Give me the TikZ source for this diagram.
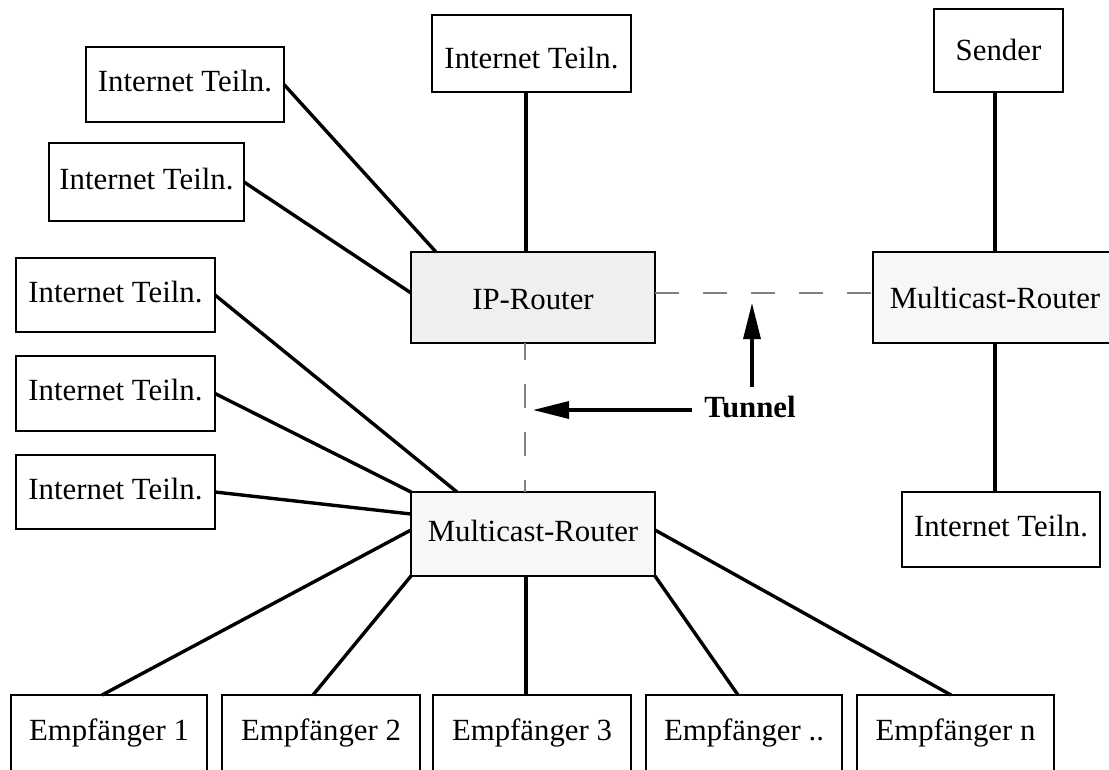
\documentclass[tikz,border=0pt]{standalone}
\usepackage{fontspec}
\setmainfont{Liberation Serif}
\usetikzlibrary{arrows.meta}
\definecolor{iphell}{HTML}{EFEFEF}
\definecolor{mchell}{HTML}{F7F7F7}
\definecolor{tunnelgrau}{HTML}{808080}

\begin{document}
\begin{tikzpicture}[x=1pt,y=-1pt,
  box/.style={draw=black, line width=2.8pt, fill=white, inner sep=0pt, outer sep=0pt,
              font=\fontsize{30.8}{36}\selectfont, text height=21pt, text depth=7pt},
  iprouter/.style={box, fill=iphell},
  mcrouter/.style={box, fill=mchell},
  link/.style={line width=3.4pt, line cap=butt},
  tunnelline/.style={draw=tunnelgrau, line width=2.5pt, dash pattern=on 24pt off 24pt},
  pointer/.style={line width=3.4pt, -{Triangle[length=36pt,width=17pt]}},
]
\useasboundingbox (0,0) rectangle (1109,769);
\clip (0,0) rectangle (1109,769);
\fill[white] (0,0) rectangle (1109,769);

% Teilnehmer links
\node[box, minimum width=198pt, minimum height=75pt] (tl1) at (185,84.5) {Internet Teiln.};
\node[box, minimum width=195pt, minimum height=78pt] (tl2) at (146.5,182) {Internet Teiln.};
\node[box, minimum width=199pt, minimum height=74pt] (l3) at (115.5,295) {Internet Teiln.};
\node[box, minimum width=199pt, minimum height=75pt] (l4) at (115.5,393.5) {Internet Teiln.};
\node[box, minimum width=199pt, minimum height=74pt] (l5) at (115.5,492) {Internet Teiln.};

% oben
\node[box, minimum width=199pt, minimum height=77pt, text height=30pt, text depth=1pt] (top) at (531.5,53.5) {Internet Teiln.};
\node[box, minimum width=129pt, minimum height=83pt, text height=23pt, text depth=4pt] (sender) at (998.5,50.5) {Sender};

% Router
\node[iprouter, minimum width=244pt, minimum height=91pt, text height=25pt, text depth=2pt] (ip) at (533,297.5) {IP-Router};
\node[mcrouter, minimum width=244pt, minimum height=84pt] (mr) at (533,534) {Multicast-Router};
\node[mcrouter, minimum width=244pt, minimum height=91pt, text height=24pt, text depth=3pt] (mrr) at (995,297.5) {Multicast-Router};

% rechts unten
\node[box, minimum width=198pt, minimum height=75pt] (rt) at (1001,529.5) {Internet Teiln.};

% Empfaenger
\tikzset{empf/.style={box, minimum height=80pt, text depth=11pt}}
\node[empf, minimum width=196pt] (e1) at (109,735) {Empfänger 1};
\node[empf, minimum width=198pt] (e2) at (321,735) {Empfänger 2};
\node[empf, minimum width=198pt] (e3) at (532,735) {Empfänger 3};
\node[empf, minimum width=196pt] (e4) at (744,735) {Empfänger ..};
\node[empf, minimum width=197pt] (e5) at (955.5,735) {Empfänger n};

% Verbindungen zum IP-Router
\draw[link] (tl1.east) -- ([xshift=25pt]ip.north west);
\draw[link] (tl2.east) -- ([yshift=4.5pt]ip.west);
\draw[link] ([xshift=-7pt]ip.north) -- ([xshift=-7pt]ip.north |- top.south);

% Verbindungen zum Multicast-Router unten
\draw[link] (l3.east) -- ([xshift=46pt]mr.north west);
\draw[link] (l4.east) -- (mr.north west);
\draw[link] (l5.east) -- ([yshift=20pt]mr.west);
\draw[link] ([yshift=4pt]mr.west) -- ([xshift=-7pt]e1.north);
\draw[link] (mr.south west) -- ([xshift=-8pt]e2.north);
\draw[link] ([xshift=-7pt]mr.south) -- ([xshift=-7pt]mr.south |- e3.north);
\draw[link] (mr.south east) -- ([xshift=-6pt]e4.north);
\draw[link] ([yshift=4pt]mr.east) -- ([xshift=-4.5pt]e5.north);

% Multicast-Router rechts
\draw[link] (mrr.north) -- (mrr.north |- sender.south);
\draw[link] (mrr.south) -- (mrr.south |- rt.north);

% Tunnel
\draw[tunnelline] ([yshift=4.5pt]ip.east) -- ([yshift=4.5pt]ip.east -| mrr.west);
\draw[tunnelline, dash phase=7pt] ([xshift=-8pt]ip.south) -- ([xshift=-8pt]ip.south |- mr.north);

\node[font=\fontsize{30.8}{36}\selectfont\bfseries, anchor=base, inner sep=0pt] (tunnel) at (750,417) {Tunnel};
\coordinate (hstart) at (692,410);
\coordinate (hend) at (533,410);
\coordinate (vstart) at (752,387);
\coordinate (vend) at (752,303);
\draw[pointer] (hstart) -- (hend);
\draw[pointer] (vstart) -- (vend);
\end{tikzpicture}
\end{document}
